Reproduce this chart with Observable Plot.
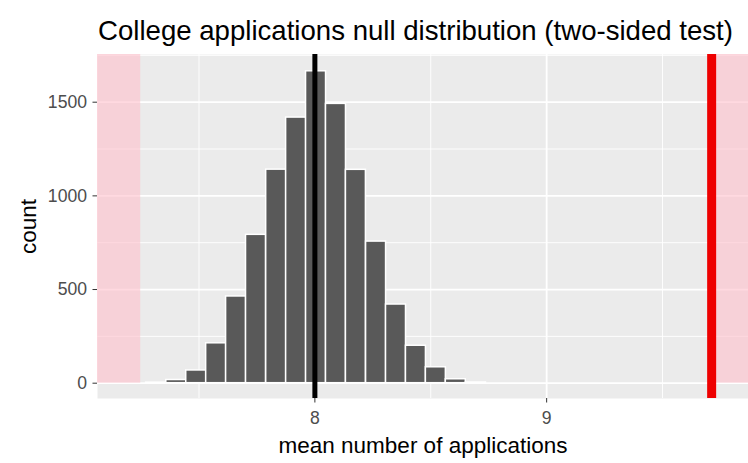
<!DOCTYPE html>
<html>
<head>
<meta charset="utf-8">
<script src="https://cdn.jsdelivr.net/npm/d3@7"></script>
<script src="https://cdn.jsdelivr.net/npm/@observablehq/plot@0.6"></script>
<style>
  html, body { margin: 0; padding: 0; background: #ffffff; }
  body { width: 748px; height: 463px; overflow: hidden; font-family: "Liberation Sans", Arial, Helvetica, sans-serif; }
  #title { position: relative; height: 54px; }
  #title span { position: absolute; left: 98px; top: 16.7px; font-size: 27.6px; line-height: 27.6px; color: #000; white-space: nowrap; }
  #chart svg { display: block; }
</style>
</head>
<body>
<div id="title"><span>College applications null distribution (two-sided test)</span></div>
<div id="chart"></div>
<script>
// Histogram bins (centers, in mean number of applications) and counts
const binCenters = [7.315, 7.402, 7.488, 7.574, 7.660, 7.746, 7.833, 7.919, 8.005, 8.091, 8.177, 8.264, 8.350, 8.436, 8.522, 8.608, 8.695];
const counts     = [3, 17, 68, 213, 463, 792, 1140, 1418, 1665, 1491, 1139, 756, 420, 200, 85, 21, 4];
const binWidth = 0.0862;

// Reference values
const nullMean = 8;
const observedStat = 9.712;
const mirroredStat = 7.2485;

// Axis ticks
const xTicks = [8, 9];
const xMinor = [7.5, 8.5, 9.5];
const yTicks = [0, 500, 1000, 1500];
const yMinor = [250, 750, 1250, 1750];

const xDomain = [7.062, 9.871];
const yDomain = [-81.7, 1754.6];

const bins = binCenters.map((c, i) => ({center: c, count: counts[i]}));
const shades = [
  {x1: xDomain[0], x2: mirroredStat},
  {x1: observedStat, x2: xDomain[1]}
];

const chart = Plot.plot({
  width: 748,
  height: 409,
  marginTop: 0,
  marginBottom: 65,
  marginLeft: 97,
  marginRight: 0,
  style: {fontFamily: '"Liberation Sans", Arial, Helvetica, sans-serif', background: "transparent"},
  x: {domain: xDomain},
  y: {domain: yDomain},
  marks: [
    Plot.frame({fill: "#EBEBEB", stroke: "none"}),
    Plot.ruleY(yMinor, {y: d => d, stroke: "white", strokeWidth: 0.9}),
    Plot.ruleX(xMinor, {x: d => d, stroke: "white", strokeWidth: 0.9}),
    Plot.ruleY(yTicks, {y: d => d, stroke: "white", strokeWidth: 1.8}),
    Plot.ruleX(xTicks, {x: d => d, stroke: "white", strokeWidth: 1.8}),
    Plot.rect(shades, {x1: "x1", x2: "x2", y1: 0, y2: yDomain[1], fill: "pink", fillOpacity: 0.6}),
    Plot.rectY(bins, {
      x1: d => d.center - binWidth / 2,
      x2: d => d.center + binWidth / 2,
      y1: 0,
      y2: "count",
      fill: "#595959",
      stroke: "white",
      strokeWidth: 1.5
    }),
    Plot.ruleX([nullMean], {x: d => d, stroke: "black", strokeWidth: 5}),
    Plot.ruleX([observedStat], {x: d => d, stroke: "#EE0000", strokeWidth: 9}),
    Plot.axisX({ticks: xTicks, tickFormat: d => String(d), tickSize: 4.5, tickPadding: 8, fontSize: 17.6, stroke: "#333333", fill: "#4D4D4D", label: null}),
    Plot.axisY({ticks: yTicks, tickFormat: d => String(d), tickSize: 4.5, tickPadding: 6, fontSize: 17.6, stroke: "#333333", fill: "#4D4D4D", label: null}),
    Plot.text(["mean number of applications"], {frameAnchor: "bottom", dy: 54, lineAnchor: "bottom", text: d => d, fontSize: 22.5, fill: "black"}),
    Plot.text(["count"], {frameAnchor: "left", dx: -62, rotate: -90, lineAnchor: "bottom", textAnchor: "middle", text: d => d, fontSize: 22.5, fill: "black"})
  ]
});
document.getElementById("chart").appendChild(chart);
</script>
</body>
</html>
